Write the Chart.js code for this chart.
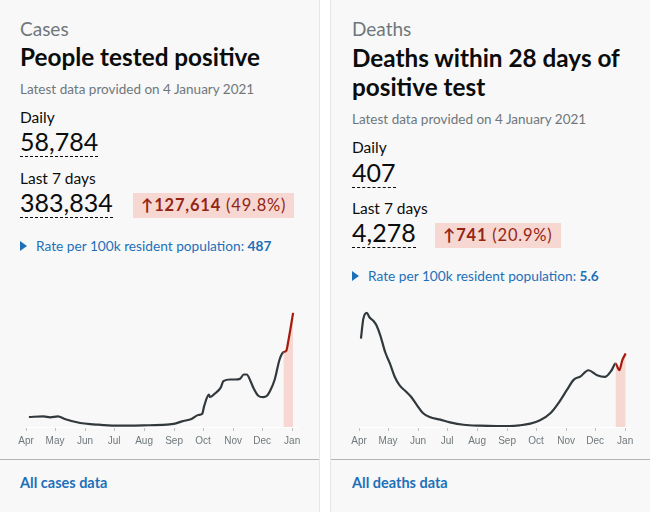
<!DOCTYPE html>
<html><head><meta charset="utf-8">
<script src="https://cdn.jsdelivr.net/npm/chart.js@4/dist/chart.umd.min.js"></script>
<style>
html,body{margin:0;padding:0;background:#fff;width:650px;height:512px;overflow:hidden;font-family:Lato,"Noto Sans",sans-serif;}
.card{position:absolute;top:0;height:512px;background:#f8f8f8;}
.t{position:absolute;white-space:nowrap;}
.cap{font-size:19px;line-height:24px;color:#6f777b;}
.title{font-size:24.3px;line-height:29px;font-weight:700;color:#0b0c0c;}
.latest{font-size:13.5px;line-height:18px;color:#6f777b;}
.lbl{font-size:15.5px;line-height:20px;color:#0b0c0c;}
.num{font-size:25px;line-height:24px;color:#0b0c0c;padding-bottom:3px;border-bottom:1px dashed #0b0c0c;}
.badge{background:#f6d7d2;color:#942514;font-size:16.5px;line-height:25px;height:25px;padding:0 8px;letter-spacing:0.8px;}
.badge b{font-weight:700;}
.rate{font-size:13.7px;line-height:18px;color:#1d70b8;}
.rate b{font-weight:700;}
.tri{position:absolute;width:0;height:0;border-top:5px solid transparent;border-bottom:5px solid transparent;border-left:7px solid #1d70b8;}
.div{position:absolute;top:459px;height:1px;background:#b1b4b6;}
.link{font-size:14.5px;line-height:18px;font-weight:700;color:#1d70b8;}
canvas{position:absolute;}
</style></head>
<body>
<div class="card" style="left:0;width:319px;border-right:1px solid #e6e6e6;"></div>
<div class="card" style="left:330px;width:320px;border-left:1px solid #e6e6e6;"></div>

<!-- Cases card -->
<div class="t cap" style="left:20px;top:17px;">Cases</div>
<div class="t title" style="left:20px;top:42px;">People tested positive</div>
<div class="t latest" style="left:20px;top:80px;">Latest data provided on 4 January 2021</div>
<div class="t lbl" style="left:20px;top:107px;">Daily</div>
<div class="t num" style="left:20px;top:129px;">58,784</div>
<div class="t lbl" style="left:20px;top:168px;">Last 7 days</div>
<div class="t num" style="left:20px;top:190px;">383,834</div>
<div class="t badge" style="left:133px;top:193px;"><b>&#8593;127,614</b> (49.8%)</div>
<div class="tri" style="left:20px;top:241px;"></div>
<div class="t rate" style="left:36px;top:237px;">Rate per 100k resident population: <b>487</b></div>
<div class="div" style="left:0;width:319px;"></div>
<div class="t link" style="left:20px;top:474px;">All cases data</div>

<!-- Deaths card -->
<div class="t cap" style="left:352px;top:17px;">Deaths</div>
<div class="t title" style="left:352px;top:43px;">Deaths within 28 days of<br>positive test</div>
<div class="t latest" style="left:352px;top:110px;">Latest data provided on 4 January 2021</div>
<div class="t lbl" style="left:352px;top:137px;">Daily</div>
<div class="t num" style="left:352px;top:160px;">407</div>
<div class="t lbl" style="left:352px;top:198px;">Last 7 days</div>
<div class="t num" style="left:352px;top:220px;">4,278</div>
<div class="t badge" style="left:435px;top:223px;"><b>&#8593;741</b> (20.9%)</div>
<div class="tri" style="left:352px;top:271px;"></div>
<div class="t rate" style="left:368px;top:267px;">Rate per 100k resident population: <b>5.6</b></div>
<div class="div" style="left:331px;width:319px;"></div>
<div class="t link" style="left:352px;top:474px;">All deaths data</div>

<canvas id="cases" width="320" height="149" style="left:0;top:302px;"></canvas>
<canvas id="deaths" width="320" height="144" style="left:330px;top:307px;"></canvas>

<script>
// Month ticks (days since 1 April 2020)
const monthTicks = [0, 30, 61, 91, 122, 153, 183, 214, 244, 275];
const monthLabels = ['Apr', 'May', 'Jun', 'Jul', 'Aug', 'Sep', 'Oct', 'Nov', 'Dec', 'Jan'];

// Cases: 7-day average of people tested positive
const caseDays   = [3, 18, 25, 33, 40, 56, 70, 92, 121, 145, 154, 161, 171, 178, 182, 184, 189, 190, 195, 201, 204, 211, 216, 221, 225, 228, 232, 235, 240, 245, 249, 252, 257, 262, 266, 269, 271, 276];
const caseValues = [4800, 5100, 4650, 5100, 3850, 1900, 1280, 640, 800, 1100, 1600, 2700, 3850, 5770, 6250, 9900, 15500, 14400, 16000, 18750, 22000, 22800, 22800, 23100, 25200, 25200, 22000, 18750, 15000, 14300, 15000, 17150, 22800, 32400, 35900, 36700, 41200, 54800];
const caseHighlightStart = 266;

// Deaths: 7-day average of deaths within 28 days of positive test
const deathDays   = [2, 4.5, 8, 11, 15, 18, 22, 27, 32, 37, 42, 49, 54, 60, 66, 73, 84, 94, 108, 125, 142, 156, 166, 177, 187, 198, 208, 215, 222, 229, 237, 246, 254, 261, 265, 269, 272, 275.5];
const deathValues = [737, 903, 951, 912, 884, 848, 764, 625, 528, 417, 347, 292, 250, 181, 117, 83, 61, 39, 19, 11, 8, 8, 14, 28, 56, 117, 222, 311, 395, 422, 473, 431, 417, 473, 528, 473, 556, 612];
const deathHighlightStart = 265;

function makeChart(id, days, values, hlStart, yMax, padL, padR) {
  const pts = days.map((d, i) => ({x: d, y: values[i]}));
  const hl = pts.filter(p => p.x >= hlStart);
  new Chart(document.getElementById(id), {
    type: 'line',
    data: {datasets: [
      {data: pts, borderColor: '#32393d', borderWidth: 2.2, pointRadius: 0, fill: false,
       cubicInterpolationMode: 'monotone',
       segment: {borderColor: ctx => ctx.p0.parsed.x >= hlStart ? '#a51c0e' : '#32393d'}},
      {data: hl, borderWidth: 0, borderColor: 'rgba(0,0,0,0)', pointRadius: 0, fill: 'origin',
       backgroundColor: '#f6d7d2', cubicInterpolationMode: 'monotone'}
    ]},
    options: {
      responsive: false, animation: false, devicePixelRatio: 1,
      layout: {padding: {left: padL, right: padR, top: 0, bottom: 0}},
      plugins: {legend: {display: false}, tooltip: {enabled: false}},
      scales: {
        x: {type: 'linear', min: 0, max: 280,
            afterBuildTicks: s => { s.ticks = monthTicks.map(v => ({value: v})); },
            ticks: {autoSkip: false, maxRotation: 0, padding: 4, color: '#6f777b',
                    font: {family: 'Liberation Sans', size: 10},
                    callback: v => monthLabels[monthTicks.indexOf(v)]},
            grid: {drawOnChartArea: false, drawTicks: true, tickLength: 4, color: '#bfc1c3'},
            border: {display: true, color: '#ffffff', width: 1}},
        y: {display: false, min: 0, max: yMax}
      }
    }
  });
}
makeChart('cases', caseDays, caseValues, caseHighlightStart, 60000, 26, 23);
makeChart('deaths', deathDays, deathValues, deathHighlightStart, 1000, 29, 20);
</script>
</body></html>
